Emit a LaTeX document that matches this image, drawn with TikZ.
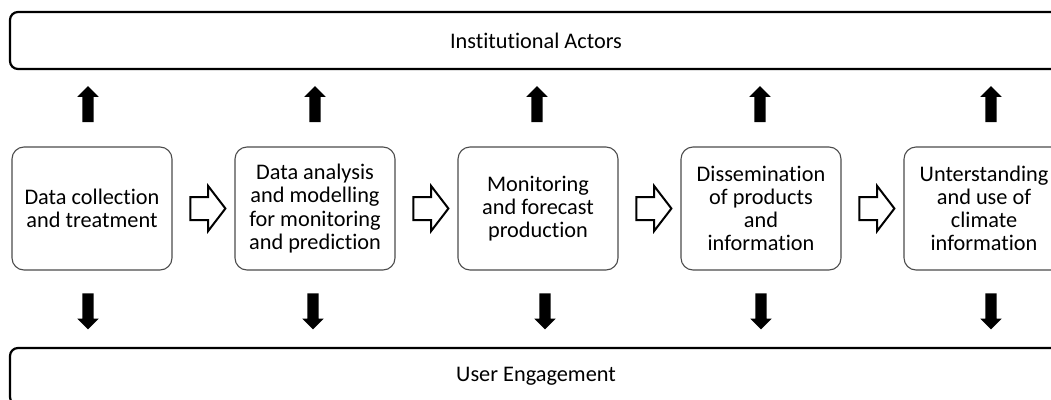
\documentclass[tikz,border=0pt]{standalone}
\usepackage{fontspec}
\setmainfont{Carlito}[Ligatures=NoCommon]
\usetikzlibrary{calc}
\usetikzlibrary{shapes.arrows}
\tikzstyle{band}=[draw, line width=2.2pt, rounded corners=8pt, minimum width=1052pt, minimum height=57pt, inner sep=0pt]
\tikzstyle{stage}=[draw=black!70, line width=1.1pt, rounded corners=12pt, minimum width=160pt, minimum height=123pt, align=center, inner sep=0pt]
\tikzstyle{flow}=[single arrow, draw, line width=2pt, fill=white, minimum height=35pt, inner xsep=0pt, inner ysep=10.5pt, single arrow head extend=11pt, single arrow tip angle=105]
\tikzstyle{link}=[single arrow, fill=black, minimum height=36pt, inner xsep=0pt, inner ysep=5.5pt, single arrow head extend=5pt]

\begin{document}
\begin{tikzpicture}[x=1pt, y=-1pt, font=\fontsize{22.3}{23.2}\selectfont]
  \useasboundingbox (0, 0) rectangle (1051, 399);
  % the two bands
  \node[band] (actors) at (536, 40.5) {Institutional Actors};
  \node[band] (users) at (536, 376.5) {User Engagement};
  % the chain of stages
  \node[stage] (collect) at (92, 208.5) {Data collection\\and treatment};
  \node[stage] (analyse) at (315, 208.5) {Data analysis\\and modelling\\for monitoring\\and prediction};
  \node[stage] (forecast) at (538, 208.5) {Monitoring\\and forecast\\production};
  \node[stage] (spread) at (761, 208.5) {Dissemination\\of products\\and\\information};
  \node[stage] (use) at (984, 208.5) {Unterstanding\\and use of\\climate\\information};
  % hollow arrows from stage to stage
  \node[flow] (f1) at ($(collect.east)!0.5!(analyse.west)$) {};
  \node[flow] (f2) at ($(analyse.east)!0.5!(forecast.west)$) {};
  \node[flow] (f3) at ($(forecast.east)!0.5!(spread.west)$) {};
  \node[flow] (f4) at ($(spread.east)!0.5!(use.west)$) {};
  % up to the actors, down to the users
  \foreach \s/\u/\d in {collect/-4/-4, analyse/0/-2, forecast/-1/7, spread/-1/0, use/7/7} {
    \node[link, rotate=90] (up-\s) at ($(\s.north |- 0, 107) + (\u, 0)$) {};
    \node[link, rotate=-90] (down-\s) at ($(\s.south |- 0, 308.5) + (\d, 0)$) {};
  }
\end{tikzpicture}
\end{document}
